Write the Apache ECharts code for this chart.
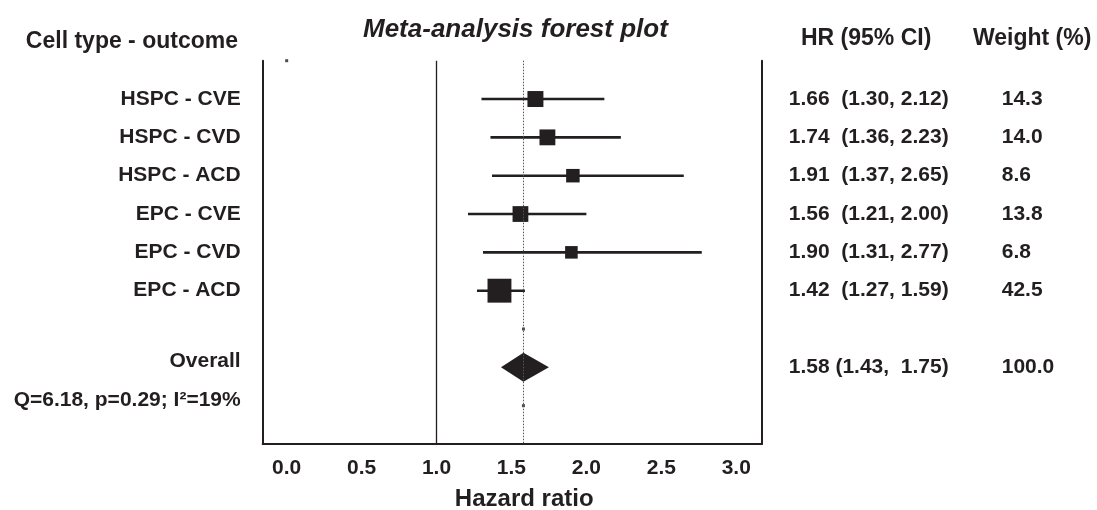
<!DOCTYPE html>
<html>
<head>
<meta charset="utf-8">
<title>Meta-analysis forest plot</title>
<script src="https://cdn.jsdelivr.net/npm/echarts@6/dist/echarts.min.js"></script>
<style>
  html, body { margin: 0; padding: 0; background: #fff; }
  #chart { width: 1097px; height: 510px; }
</style>
</head>
<body>
<div id="chart"></div>
<script>
// studies (one row each, top to bottom)
const studies = ['HSPC - CVE', 'HSPC - CVD', 'HSPC - ACD', 'EPC - CVE', 'EPC - CVD', 'EPC - ACD'];
const hr = [1.66, 1.74, 1.91, 1.56, 1.90, 1.42];
const ciLow = [1.30, 1.36, 1.37, 1.21, 1.31, 1.27];
const ciHigh = [2.12, 2.23, 2.65, 2.00, 2.77, 1.59];
const weights = [14.3, 14.0, 8.6, 13.8, 6.8, 42.5];

// pooled estimate: hr, low, high
const overallEstimate = [1.58, 1.43, 1.75];
const overallWeight = 100.0;
const heterogeneity = 'Q=6.18, p=0.29; I²=19%';

// x axis tick labels
const xTicks = [0, 0.5, 1, 1.5, 2, 2.5, 3];

// stray dots left in the original plot (x value, row)
const strayDots = [[0, 0], [1.58, 7], [1.58, 9]];

const ink = '#231f20';
const font = '"Liberation Sans", Arial, sans-serif';
const overallRow = studies.length + 2;

const chart = echarts.init(document.getElementById('chart'));

// left labels: study rows plus overall and heterogeneity line
const leftLabels = {};
studies.forEach((s, i) => { leftLabels[i + 1] = s; });
leftLabels[overallRow - 0.15] = 'Overall';
leftLabels[overallRow + 0.85] = heterogeneity;

const hrLabels = {};
studies.forEach((s, i) => {
  hrLabels[i + 1] = `${hr[i].toFixed(2)}  (${ciLow[i].toFixed(2)}, ${ciHigh[i].toFixed(2)})`;
});
hrLabels[overallRow] = `${overallEstimate[0].toFixed(2)} (${overallEstimate[1].toFixed(2)},  ${overallEstimate[2].toFixed(2)})`;

const weightLabels = {};
studies.forEach((s, i) => { weightLabels[i + 1] = weights[i].toFixed(1); });
weightLabels[overallRow] = overallWeight.toFixed(1);

const rowAxis = (extra) => Object.assign({
  type: 'value',
  min: 0,
  max: 10,
  inverse: true,
  splitLine: { show: false },
  axisTick: { show: false }
}, extra);

const labelStyle = { color: ink, fontFamily: font, fontWeight: 'bold', fontSize: 21 };

const option = {
  animation: false,
  title: {
    text: 'Meta-analysis forest plot',
    left: 363,
    top: 17,
    padding: 0,
    textStyle: { color: ink, fontFamily: font, fontWeight: 'bold', fontStyle: 'italic', fontSize: 26 }
  },
  graphic: [
    {
      type: 'text', x: 238, y: 42,
      style: { text: 'Cell type - outcome', align: 'right', verticalAlign: 'middle', fill: ink, font: `bold 23px ${font}` }
    },
    {
      type: 'text', x: 801, y: 39,
      style: { text: 'HR (95% CI)', align: 'left', verticalAlign: 'middle', fill: ink, font: `bold 23px ${font}` }
    },
    {
      type: 'text', x: 973, y: 39,
      style: { text: 'Weight (%)', align: 'left', verticalAlign: 'middle', fill: ink, font: `bold 23px ${font}` }
    }
  ],
  grid: { left: 262.7, right: 335.3, top: 60.7, bottom: 66, outerBoundsMode: 'none' },
  xAxis: {
    type: 'value',
    min: -0.16,
    max: 3.17,
    position: 'bottom',
    name: 'Hazard ratio',
    nameLocation: 'middle',
    nameGap: 43,
    nameTextStyle: { color: ink, fontFamily: font, fontWeight: 'bold', fontSize: 24, padding: [0, 0, 0, 24] },
    axisLine: { show: true, onZero: false, lineStyle: { color: ink, width: 2 } },
    axisTick: { show: false },
    splitLine: { show: false },
    axisLabel: Object.assign({
      customValues: xTicks,
      margin: 14,
      formatter: v => v.toFixed(1)
    }, labelStyle)
  },
  yAxis: [
    rowAxis({
      position: 'left',
      axisLine: { show: true, onZero: false, lineStyle: { color: ink, width: 2 } },
      axisLabel: Object.assign({
        customValues: Object.keys(leftLabels).map(Number),
        margin: 22,
        formatter: v => leftLabels[v] || ''
      }, labelStyle)
    }),
    rowAxis({
      position: 'right',
      axisLine: { show: true, onZero: false, lineStyle: { color: ink, width: 2 } },
      axisLabel: Object.assign({
        customValues: Object.keys(hrLabels).map(Number),
        margin: 27,
        formatter: v => hrLabels[v] || ''
      }, labelStyle)
    }),
    rowAxis({
      position: 'right',
      offset: 212,
      axisLine: { show: false, onZero: false },
      axisLabel: Object.assign({
        customValues: Object.keys(weightLabels).map(Number),
        margin: 28,
        formatter: v => weightLabels[v] || ''
      }, labelStyle)
    })
  ],
  series: [
    {
      // confidence interval whiskers
      name: 'CI',
      type: 'custom',
      silent: true,
      encode: { x: [0, 1], y: 2 },
      data: studies.map((s, i) => [ciLow[i], ciHigh[i], i + 1]),
      renderItem: (params, api) => {
        const a = api.coord([api.value(0), api.value(2)]);
        const b = api.coord([api.value(1), api.value(2)]);
        return {
          type: 'line',
          shape: { x1: a[0], y1: a[1], x2: b[0], y2: b[1] },
          style: { stroke: ink, lineWidth: 2.6 }
        };
      },
      markLine: {
        silent: true,
        symbol: 'none',
        label: { show: false },
        data: [
          { xAxis: 1, lineStyle: { color: ink, width: 1.3, type: 'solid' } },
          { xAxis: overallEstimate[0], lineStyle: { color: '#555', width: 1, type: [1.5, 1.5] } }
        ]
      },
      z: 2
    },
    {
      // study estimates, square size from weight
      name: 'HR',
      type: 'scatter',
      symbol: 'rect',
      data: studies.map((s, i) => [hr[i], i + 1, weights[i]]),
      symbolSize: v => 5 + 2.9 * Math.sqrt(v[2]),
      itemStyle: { color: ink, opacity: 1 },
      z: 3
    },
    {
      // pooled estimate diamond
      name: 'Overall',
      type: 'custom',
      silent: true,
      encode: { x: [0, 1, 2], y: 3 },
      data: [[overallEstimate[1], overallEstimate[0], overallEstimate[2], overallRow]],
      renderItem: (params, api) => {
        const row = api.value(3);
        const lo = api.coord([api.value(0), row]);
        const mid = api.coord([api.value(1), row]);
        const hi = api.coord([api.value(2), row]);
        const h = 14.5;
        return {
          type: 'polygon',
          shape: { points: [lo, [mid[0], mid[1] - h], hi, [mid[0], mid[1] + h]] },
          style: { fill: ink }
        };
      },
      z: 3
    },
    {
      name: 'dots',
      type: 'scatter',
      symbol: 'rect',
      symbolSize: 3,
      data: strayDots,
      itemStyle: { color: ink },
      z: 3
    }
  ]
};

chart.setOption(option);
window.addEventListener('resize', () => chart.resize());
</script>
</body>
</html>
